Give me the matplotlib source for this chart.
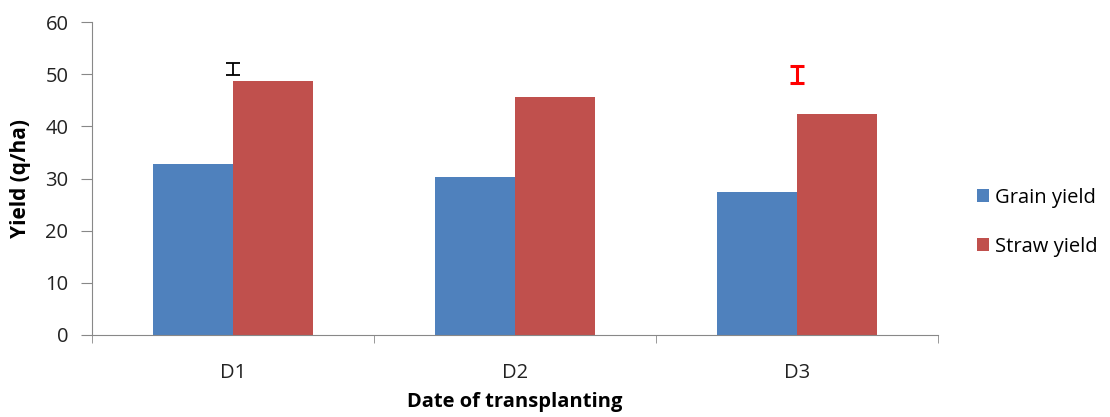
import matplotlib
matplotlib.use("Agg")
import matplotlib.pyplot as plt
import numpy as np

categories = ["D1", "D2", "D3"]
grain_yield = [32.8, 30.2, 27.5]
straw_yield = [48.7, 45.7, 42.4]
# floating CD markers (center, half-range)
cd_center = [51.0, 49.9]
cd_half = [1.1, 1.6]
cd_cat = [0, 2]

plt.rcParams['font.family'] = ['Open Sans', 'DejaVu Sans']

fig = plt.figure(figsize=(11.1, 4.17), dpi=100)
ax = fig.add_axes([92/1110, 1-335/417, (938-92)/1110, (335-22)/417])

x = np.arange(len(categories))
w = 0.284
ax.bar(x - w/2, grain_yield, w, color="#4F81BD", label="Grain yield")
ax.bar(x + w/2, straw_yield, w, color="#C0504D", label="Straw yield")

ax.errorbar([cd_cat[0]], [cd_center[0]], yerr=[cd_half[0]], fmt='none',
            ecolor='black', elinewidth=1.3, capsize=5, capthick=1.3)
ax.errorbar([cd_cat[1]], [cd_center[1]], yerr=[cd_half[1]], fmt='none',
            ecolor='red', elinewidth=2.2, capsize=5, capthick=2.2)

ax.set_xlim(-0.5, 2.5)
ax.set_ylim(0, 60)
ax.set_yticks(np.arange(0, 61, 10))
ax.set_xticks(x)
ax.set_xticklabels(categories)
ax.set_xticks([-0.5, 0.5, 1.5, 2.5], minor=True)
ax.tick_params(axis='x', which='major', length=0, pad=20, labelsize=14.5, labelcolor='#222222')
ax.tick_params(axis='x', which='minor', length=6, direction='out', color='#888888')
ax.tick_params(axis='y', length=8, direction='out', color='#888888', labelsize=14.5,
               labelcolor='#222222', pad=9)

for s in ['top', 'right']:
    ax.spines[s].set_visible(False)
for s in ['left', 'bottom']:
    ax.spines[s].set_color('#888888')

ax.set_ylabel("Yield (q/ha)", fontsize=15, fontweight='bold', labelpad=10)
ax.set_xlabel("Date of transplanting", fontsize=14.5, fontweight='bold', labelpad=7)

ax.legend(loc='center left', bbox_to_anchor=(1.025, 0.36), frameon=False,
          fontsize=14.5, handlelength=0.6, handleheight=0.6, labelspacing=1.45,
          handletextpad=0.3)

fig.savefig("out.png", dpi=100)
